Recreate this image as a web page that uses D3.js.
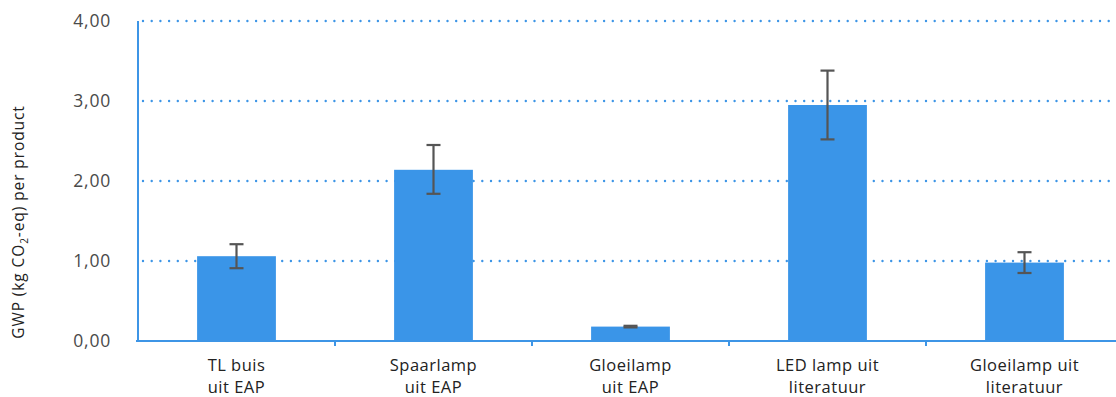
<!DOCTYPE html>
<html>
<head>
<meta charset="utf-8">
<script src="https://cdn.jsdelivr.net/npm/d3@7"></script>
<style>
  body { margin: 0; background: #fff; }
  text { font-family: "Open Sans", sans-serif; }
</style>
</head>
<body>
<svg id="vis1" width="1116" height="397"></svg>
<script>
// data
var categories = [
    ["TL buis", "uit EAP"],
    ["Spaarlamp", "uit EAP"],
    ["Gloeilamp", "uit EAP"],
    ["LED lamp uit", "literatuur"],
    ["Gloeilamp uit", "literatuur"]
];
var values = [1.06, 2.14, 0.18, 2.95, 0.98];
var errLow = [0.91, 1.84, 0.17, 2.52, 0.85];
var errHigh = [1.21, 2.45, 0.19, 3.38, 1.11];
var yTicks = [0, 1, 2, 3, 4];

var svg = d3.select("svg#vis1");

let margin = { top: 21, left: 138, bottom: 56 };
let plotHeight = 397 - margin.top - margin.bottom;
let bandEnd = 1123 - margin.left;

let y = d3.scaleLinear()
    .domain([0, 4])
    .range([plotHeight, 0]);

let x = d3.scaleBand()
    .domain(d3.range(categories.length))
    .range([0, bandEnd])
    .paddingInner(0)
    .paddingOuter(0);

let plot = svg.append("g")
    .attr("transform", "translate(" + margin.left + "," + margin.top + ")");

// dotted gridlines
plot.selectAll("line.grid")
    .data(yTicks.filter(d => d > 0))
    .enter().append("line")
    .attr("class", "grid")
    .attr("x1", 5)
    .attr("x2", 1116 - margin.left)
    .attr("y1", d => y(d))
    .attr("y2", d => y(d))
    .style("stroke", "#3d95e6")
    .style("stroke-width", 2.4)
    .style("stroke-linecap", "round")
    .style("stroke-dasharray", "0,8.7");

// bars
let barW = x.bandwidth() * 0.4;
plot.selectAll("rect.bar")
    .data(values)
    .enter().append("rect")
    .attr("class", "bar")
    .attr("x", (d, i) => x(i) + (x.bandwidth() - barW) / 2)
    .attr("width", barW)
    .attr("y", d => y(d))
    .attr("height", d => plotHeight - y(d))
    .style("fill", "#3a95e8");

// error bars
let err = plot.selectAll("g.err")
    .data(values.map((d, i) => ({ i: i, lo: errLow[i], hi: errHigh[i] })))
    .enter().append("g")
    .attr("class", "err")
    .attr("transform", d => "translate(" + (x(d.i) + x.bandwidth() / 2) + ",0)");

err.append("line")
    .attr("y1", d => y(d.lo))
    .attr("y2", d => y(d.hi))
    .style("stroke", "#555");
err.selectAll("line.cap")
    .data(d => [d.lo, d.hi])
    .enter().append("line")
    .attr("class", "cap")
    .attr("x1", -7)
    .attr("x2", 7)
    .attr("y1", d => y(d))
    .attr("y2", d => y(d))
    .style("stroke", "#555");
err.selectAll("line")
    .style("stroke-width", 2.2);

// x axis
let xGroup = plot.append("g")
    .attr("transform", "translate(0," + plotHeight + ")");
xGroup.append("line")
    .attr("x1", 0)
    .attr("x2", 1116)
    .style("stroke", "#3d95e6")
    .style("stroke-width", 2);
xGroup.selectAll("line.tick")
    .data(d3.range(1, categories.length))
    .enter().append("line")
    .attr("class", "tick")
    .attr("x1", d => x(d))
    .attr("x2", d => x(d))
    .attr("y1", 0)
    .attr("y2", 5)
    .style("stroke", "#3d95e6")
    .style("stroke-width", 2);

let labels = xGroup.selectAll("text.xl")
    .data(categories)
    .enter().append("text")
    .attr("class", "xl")
    .attr("x", (d, i) => x(i) + x.bandwidth() / 2)
    .attr("y", 30)
    .style("text-anchor", "middle")
    .style("font-size", "16.5px")
    .style("letter-spacing", "0.5px")
    .style("fill", "#222");
labels.selectAll("tspan")
    .data(d => d)
    .enter().append("tspan")
    .attr("x", function () { return d3.select(this.parentNode).attr("x"); })
    .attr("dy", (d, i) => i === 0 ? 0 : 22)
    .text(d => d);

// y axis
let yAxis = d3.axisLeft(y)
    .tickValues(yTicks)
    .tickSize(0)
    .tickPadding(27)
    .tickFormat(d => d3.format(".2f")(d).replace(".", ","));
let yGroup = plot.append("g").call(yAxis);
yGroup.select(".domain").remove();
yGroup.selectAll("text")
    .style("font-family", "'Open Sans', sans-serif")
    .style("font-size", "17.5px")
    .style("letter-spacing", "0.8px")
    .style("fill", "#4a4a4a");

plot.append("line")
    .attr("x1", 0).attr("x2", 0)
    .attr("y1", 0).attr("y2", plotHeight + 1)
    .style("stroke", "#3d95e6")
    .style("stroke-width", 2);
plot.append("line")
    .attr("x1", -2).attr("x2", 0)
    .attr("y1", plotHeight).attr("y2", plotHeight)
    .style("stroke", "#3d95e6")
    .style("stroke-width", 2);

// y axis title
let title = svg.append("text")
    .attr("transform", "translate(24,222) rotate(-90)")
    .style("text-anchor", "middle")
    .style("font-size", "15.5px")
    .style("letter-spacing", "0.9px")
    .style("fill", "#222");
title.append("tspan").text("GWP (kg CO");
title.append("tspan").attr("dy", 4).style("font-size", "10px").text("2");
title.append("tspan").attr("dy", -4).text("-eq) per product");
</script>
</body>
</html>
